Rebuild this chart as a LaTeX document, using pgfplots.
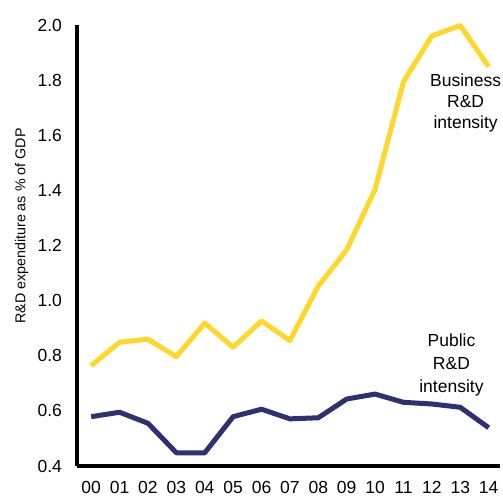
\documentclass[border=0pt]{standalone}
\usepackage{pgfplots}
\pgfplotsset{compat=1.18}
\usepackage{fontspec}
\setmainfont{Liberation Sans}
\definecolor{bizyellow}{HTML}{FFD72A}
\definecolor{pubnavy}{HTML}{2D3172}

\pgfplotstableread{
yr  business public
0   0.764  0.579
1   0.849  0.595
2   0.860  0.555
3   0.797  0.448
4   0.918  0.448
5   0.831  0.579
6   0.926  0.606
7   0.855  0.571
8   1.053  0.575
9   1.184  0.643
10  1.404  0.661
11  1.794  0.631
12  1.960  0.625
13  1.998  0.613
14  1.849  0.539
}\rd

\begin{document}
\fontsize{17.5bp}{21bp}\selectfont
\begin{tikzpicture}
\useasboundingbox (-77bp,-31bp) rectangle (426bp,466bp);
\begin{axis}[
  at={(0,0)}, anchor=south west,
  scale only axis,
  width=423bp, height=441bp,
  xmin=-0.5, xmax=14.4,
  ymin=0.4, ymax=2.0,
  axis x line*=bottom, axis y line*=left,
  axis line style={line width=3.2bp, black},
  every outer x axis line/.append style={-},
  every outer y axis line/.append style={-},
  xtick={0,...,14},
  xticklabels={00,01,02,03,04,05,06,07,08,09,10,11,12,13,14},
  ytick={0.4,0.6,...,2.0},
  /pgf/number format/fixed,
  /pgf/number format/fixed zerofill,
  /pgf/number format/precision=1,
  /pgf/number format/assume math mode=true,
  major tick length=0pt,
  tick label style={font=\fontsize{17.5bp}{21bp}\selectfont},
  xticklabel style={yshift=-9bp},
  yticklabel style={xshift=-9bp},
  ylabel={R\&D expenditure as \% of GDP},
  ylabel style={font=\fontsize{14.3bp}{17bp}\selectfont,
    at={(axis description cs:-0.131,0.544)}, anchor=center},
  clip=false,
]
\addplot[bizyellow, line width=5bp, line join=round] table[x=yr, y=business] {\rd};
\addplot[pubnavy, line width=5bp, line join=round] table[x=yr, y=public] {\rd};
\node[align=center, anchor=center, font=\fontsize{17.5bp}{21bp}\selectfont] at (axis cs:13.19,1.717) {Business\\R\&D\\intensity};
\node[align=center, anchor=center, font=\fontsize{17.5bp}{23bp}\selectfont] at (axis cs:12.69,0.768) {Public\\R\&D\\intensity};
\end{axis}
\end{tikzpicture}
\end{document}
